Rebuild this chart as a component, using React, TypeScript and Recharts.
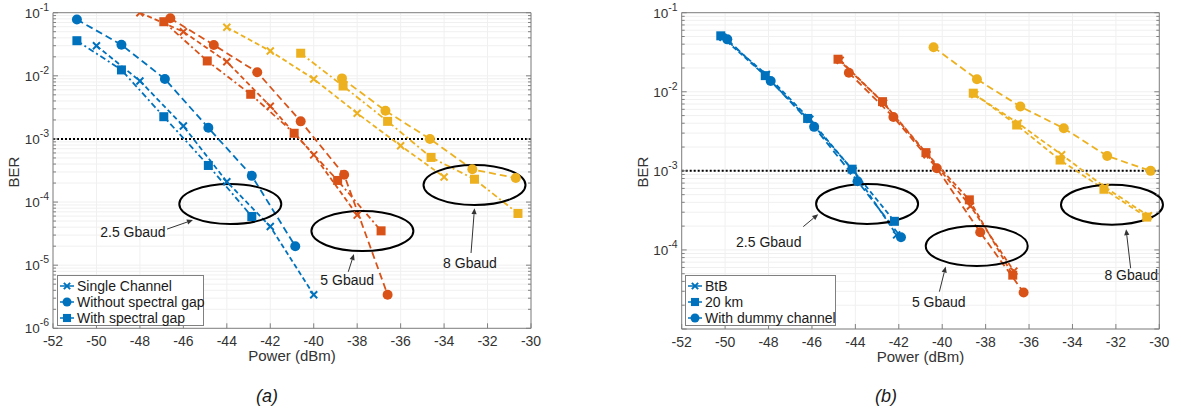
import React from "react";
import {
  CartesianGrid,
  Legend,
  Line,
  LineChart,
  ReferenceDot,
  ReferenceLine,
  XAxis,
  YAxis,
} from "recharts";

type Pt = { x: number; y: number };
type Kind = "x" | "o" | "s";

const BLUE = "#0072BD";
const RED = "#D95319";
const YELLOW = "#EDB120";
const AXIS = "#808080";
const GRID = "#f0f0f0";
const TEXT = "#333333";
const FONT = '"Liberation Sans", Arial, Helvetica, sans-serif';

const X_TICKS = [-52, -50, -48, -46, -44, -42, -40, -38, -36, -34, -32, -30];
const MANTISSAS = [1, 2, 3, 4, 5, 6, 7, 8, 9];
const A_Y_LABEL_EXPS = [-6, -5, -4, -3, -2, -1];
const B_Y_LABEL_EXPS = [-4, -3, -2, -1];

// (a) 2.5 Gbaud
const A_BLUE_SINGLE: Pt[] = [
  { x: -50, y: 0.03 }, { x: -48, y: 0.0083 }, { x: -46, y: 0.0016 },
  { x: -44, y: 2.1e-4 }, { x: -42, y: 4.1e-5 }, { x: -40, y: 3.4e-6 },
];
const A_BLUE_NOGAP: Pt[] = [
  { x: -50.9, y: 0.078 }, { x: -48.85, y: 0.031 }, { x: -46.85, y: 0.0089 },
  { x: -44.85, y: 0.0015 }, { x: -42.85, y: 2.6e-4 }, { x: -40.85, y: 2.0e-5 },
];
const A_BLUE_GAP: Pt[] = [
  { x: -50.9, y: 0.036 }, { x: -48.85, y: 0.0124 }, { x: -46.9, y: 0.00225 },
  { x: -44.85, y: 3.8e-4 }, { x: -42.85, y: 5.9e-5 },
];
// (a) 5 Gbaud
const A_RED_SINGLE: Pt[] = [
  { x: -48, y: 0.1 }, { x: -46, y: 0.05 }, { x: -44, y: 0.0167 },
  { x: -42, y: 0.0033 }, { x: -40, y: 5.6e-4 }, { x: -38, y: 6.2e-5 },
];
const A_RED_NOGAP: Pt[] = [
  { x: -46.6, y: 0.0815 }, { x: -44.6, y: 0.0308 }, { x: -42.6, y: 0.0114 },
  { x: -40.6, y: 0.0019 }, { x: -38.6, y: 2.7e-4 }, { x: -36.6, y: 3.4e-6 },
];
const A_RED_GAP: Pt[] = [
  { x: -46.9, y: 0.072 }, { x: -44.9, y: 0.0172 }, { x: -42.9, y: 0.0051 },
  { x: -40.9, y: 0.00123 }, { x: -38.9, y: 2.2e-4 }, { x: -36.9, y: 3.5e-5 },
];
// (a) 8 Gbaud
const A_YEL_SINGLE: Pt[] = [
  { x: -44, y: 0.0587 }, { x: -42, y: 0.0247 }, { x: -40, y: 0.0089 },
  { x: -38, y: 0.00255 }, { x: -36, y: 7.8e-4 }, { x: -34, y: 2.5e-4 },
];
const A_YEL_NOGAP: Pt[] = [
  { x: -38.7, y: 0.0091 }, { x: -36.7, y: 0.0028 }, { x: -34.65, y: 0.001 },
  { x: -32.7, y: 3.3e-4 }, { x: -30.7, y: 2.4e-4 },
];
const A_YEL_GAP: Pt[] = [
  { x: -40.6, y: 0.0228 }, { x: -38.65, y: 0.0069 }, { x: -36.6, y: 0.0019 },
  { x: -34.6, y: 5.1e-4 }, { x: -32.6, y: 2.3e-4 }, { x: -30.6, y: 6.6e-5 },
];

// (b) 2.5 Gbaud
const B_BLUE_BTB: Pt[] = [
  { x: -50.1, y: 0.049 }, { x: -48.1, y: 0.0165 }, { x: -46.1, y: 0.0045 },
  { x: -44.1, y: 0.001 }, { x: -42.1, y: 1.55e-4 },
];
const B_BLUE_20KM: Pt[] = [
  { x: -50.2, y: 0.051 }, { x: -48.15, y: 0.016 }, { x: -46.2, y: 0.0046 },
  { x: -44.15, y: 0.00105 }, { x: -42.2, y: 2.3e-4 },
];
const B_BLUE_DUMMY: Pt[] = [
  { x: -49.9, y: 0.046 }, { x: -47.9, y: 0.0137 }, { x: -45.9, y: 0.0036 },
  { x: -43.9, y: 7.4e-4 }, { x: -41.9, y: 1.45e-4 },
];
// (b) 5 Gbaud
const B_RED_BTB: Pt[] = [
  { x: -44.7, y: 0.025 }, { x: -42.7, y: 0.0072 }, { x: -40.7, y: 0.0016 },
  { x: -38.7, y: 3.6e-4 }, { x: -36.7, y: 5.4e-5 },
];
const B_RED_20KM: Pt[] = [
  { x: -44.8, y: 0.0258 }, { x: -42.75, y: 0.0075 }, { x: -40.75, y: 0.0017 },
  { x: -38.75, y: 4.3e-4 }, { x: -36.75, y: 4.8e-5 },
];
const B_RED_DUMMY: Pt[] = [
  { x: -44.3, y: 0.0174 }, { x: -42.25, y: 0.0048 }, { x: -40.25, y: 0.00108 },
  { x: -38.25, y: 1.67e-4 }, { x: -36.25, y: 2.9e-5 },
];
// (b) 8 Gbaud
const B_YEL_BTB: Pt[] = [
  { x: -38.5, y: 0.0092 }, { x: -36.5, y: 0.004 }, { x: -34.5, y: 0.0016 },
  { x: -32.5, y: 6.2e-4 }, { x: -30.5, y: 2.7e-4 },
];
const B_YEL_20KM: Pt[] = [
  { x: -38.57, y: 0.0096 }, { x: -36.57, y: 0.0038 }, { x: -34.57, y: 0.00137 },
  { x: -32.55, y: 5.85e-4 }, { x: -30.58, y: 2.6e-4 },
];
const B_YEL_DUMMY: Pt[] = [
  { x: -40.4, y: 0.0366 }, { x: -38.4, y: 0.0144 }, { x: -36.4, y: 0.0065 },
  { x: -34.4, y: 0.00345 }, { x: -32.4, y: 0.00154 }, { x: -30.4, y: 0.001 },
];

// annotation anchors in data units
const A_ELLIPSES: Pt[] = [
  { x: -43.84, y: 9.3e-5 }, { x: -37.76, y: 3.47e-5 }, { x: -32.6, y: 1.86e-4 },
];
const A_NOTES = [
  { x: -48.32, y: 3.4e-5, text: "2.5 Gbaud" },
  { x: -38.46, y: 5.8e-6, text: "5 Gbaud" },
  { x: -32.81, y: 1.07e-5, text: "8 Gbaud" },
];
const A_ARROWS: Pt[][] = [
  [{ x: -46.75, y: 3.73e-5 }, { x: -45.56, y: 5.19e-5 }],
  [{ x: -38.41, y: 7.86e-6 }, { x: -38.15, y: 1.5e-5 }],
  [{ x: -32.76, y: 1.56e-5 }, { x: -32.6, y: 8.0e-5 }],
];
const B_ELLIPSES: Pt[] = [
  { x: -43.46, y: 3.82e-4 }, { x: -38.41, y: 1.12e-4 }, { x: -32.18, y: 3.74e-4 },
];
const B_NOTES = [
  { x: -47.99, y: 1.25e-4, text: "2.5 Gbaud" },
  { x: -40.16, y: 2.18e-5, text: "5 Gbaud" },
  { x: -31.29, y: 4.83e-5, text: "8 Gbaud" },
];
const B_ARROWS: Pt[][] = [
  [{ x: -46.4, y: 1.97e-4 }, { x: -45.71, y: 2.83e-4 }],
  [{ x: -40.13, y: 2.97e-5 }, { x: -39.84, y: 6.15e-5 }],
  [{ x: -31.32, y: 5.87e-5 }, { x: -31.53, y: 1.83e-4 }],
];

const A_LEGEND = [
  { label: "Single Channel", kind: "x" as Kind },
  { label: "Without spectral gap", kind: "o" as Kind },
  { label: "With spectral gap", kind: "s" as Kind },
];
const B_LEGEND = [
  { label: "BtB", kind: "x" as Kind },
  { label: "20 km", kind: "s" as Kind },
  { label: "With dummy channel", kind: "o" as Kind },
];

type Series = { name: string; data: Pt[]; color: string; kind: Kind; dash: string };

const DASH_X = "5 3";
const DASH_O = "7 4";
const DASH_S = "6 3 2 3";

const A_SERIES: Series[] = [
  { name: "a-b-x", data: A_BLUE_SINGLE, color: BLUE, kind: "x", dash: DASH_X },
  { name: "a-b-o", data: A_BLUE_NOGAP, color: BLUE, kind: "o", dash: DASH_O },
  { name: "a-b-s", data: A_BLUE_GAP, color: BLUE, kind: "s", dash: DASH_S },
  { name: "a-r-x", data: A_RED_SINGLE, color: RED, kind: "x", dash: DASH_X },
  { name: "a-r-o", data: A_RED_NOGAP, color: RED, kind: "o", dash: DASH_O },
  { name: "a-r-s", data: A_RED_GAP, color: RED, kind: "s", dash: DASH_S },
  { name: "a-y-x", data: A_YEL_SINGLE, color: YELLOW, kind: "x", dash: DASH_X },
  { name: "a-y-o", data: A_YEL_NOGAP, color: YELLOW, kind: "o", dash: DASH_O },
  { name: "a-y-s", data: A_YEL_GAP, color: YELLOW, kind: "s", dash: DASH_S },
];
const B_SERIES: Series[] = [
  { name: "b-b-x", data: B_BLUE_BTB, color: BLUE, kind: "x", dash: DASH_X },
  { name: "b-b-s", data: B_BLUE_20KM, color: BLUE, kind: "s", dash: DASH_X },
  { name: "b-b-o", data: B_BLUE_DUMMY, color: BLUE, kind: "o", dash: DASH_O },
  { name: "b-r-x", data: B_RED_BTB, color: RED, kind: "x", dash: DASH_X },
  { name: "b-r-s", data: B_RED_20KM, color: RED, kind: "s", dash: DASH_X },
  { name: "b-r-o", data: B_RED_DUMMY, color: RED, kind: "o", dash: DASH_O },
  { name: "b-y-x", data: B_YEL_BTB, color: YELLOW, kind: "x", dash: DASH_X },
  { name: "b-y-s", data: B_YEL_20KM, color: YELLOW, kind: "s", dash: DASH_X },
  { name: "b-y-o", data: B_YEL_DUMMY, color: YELLOW, kind: "o", dash: DASH_O },
];

function logTicks(lo: number, hi: number) {
  const out: number[] = [];
  for (let e = lo; e < hi; e++) for (const m of MANTISSAS) out.push(m * Math.pow(10, e));
  out.push(Math.pow(10, hi));
  return out;
}

function decadeOf(v: number) {
  const l = Math.log10(v);
  const r = Math.round(l);
  return Math.abs(l - r) < 1e-6 ? r : null;
}

function Marker({ cx, cy, kind, color, size = 1 }: { cx: number; cy: number; kind: Kind; color: string; size?: number }) {
  if (cx == null || cy == null) return null;
  if (kind === "x") {
    const d = 3.5 * size;
    return (
      <path
        d={`M${cx - d},${cy - d}L${cx + d},${cy + d}M${cx - d},${cy + d}L${cx + d},${cy - d}`}
        stroke={color}
        strokeWidth={2}
        fill="none"
      />
    );
  }
  if (kind === "o") return <circle cx={cx} cy={cy} r={5 * size} fill={color} />;
  const h = 4.5 * size;
  return <rect x={cx - h} y={cy - h} width={2 * h} height={2 * h} fill={color} />;
}

function LeftTick(props: any) {
  const { x, y, payload, labelExps } = props;
  const exp = decadeOf(payload.value);
  const major = exp !== null;
  return (
    <g>
      <line x1={x + 4} x2={x + 4 + (major ? 5 : 3)} y1={y} y2={y} stroke={AXIS} />
      {major && labelExps.includes(exp) && (
        <text x={x} y={y} dy={5} textAnchor="end" fontSize={13.5} fill={TEXT} fontFamily={FONT}>
          10
          <tspan dy={-7} fontSize={10.5}>{exp}</tspan>
        </text>
      )}
    </g>
  );
}

function RightTick(props: any) {
  const { x, y, payload } = props;
  const major = decadeOf(payload.value) !== null;
  return <line x1={x} x2={x - (major ? 5 : 3)} y1={y} y2={y} stroke={AXIS} />;
}

function BottomTick(props: any) {
  const { x, y, payload } = props;
  return (
    <g>
      <line x1={x} x2={x} y1={y - 8} y2={y - 13} stroke={AXIS} />
      <text x={x} y={y} dy={10} textAnchor="middle" fontSize={14} fill={TEXT} fontFamily={FONT}>
        {payload.value}
      </text>
    </g>
  );
}

function TopTick(props: any) {
  const { x, y } = props;
  return <line x1={x} x2={x} y1={y} y2={y + 5} stroke={AXIS} />;
}

function ArrowShape(props: any) {
  const { x1, y1, x2, y2 } = props;
  if ([x1, y1, x2, y2].some((v) => v == null || Number.isNaN(v))) return null;
  const a = Math.atan2(y2 - y1, x2 - x1);
  const L = 6;
  const W = 2.6;
  const bx = x2 - L * Math.cos(a);
  const by = y2 - L * Math.sin(a);
  const pts = `${x2},${y2} ${bx + W * Math.sin(a)},${by - W * Math.cos(a)} ${bx - W * Math.sin(a)},${by + W * Math.cos(a)}`;
  return (
    <g>
      <line x1={x1} y1={y1} x2={bx} y2={by} stroke="#333" strokeWidth={1} />
      <polygon points={pts} fill="#333" />
    </g>
  );
}

function LegendBox({ items, width }: { items: { label: string; kind: Kind }[]; width: number }) {
  return (
    <div
      style={{
        width,
        height: 51,
        boxSizing: "border-box",
        border: `1px solid ${AXIS}`,
        background: "#fff",
        padding: "2px 0 0 1px",
        fontFamily: FONT,
        fontSize: 14,
        color: "#1a1a1a",
      }}
    >
      {items.map((it) => (
        <div key={it.label} style={{ display: "flex", alignItems: "center", height: 16, lineHeight: "16px" }}>
          <svg width={16} height={14} style={{ flex: "none" }}>
            <line x1={1} x2={15} y1={7} y2={7} stroke={BLUE} strokeWidth={1.5} />
            <Marker cx={8} cy={7} kind={it.kind} color={BLUE} size={0.9} />
          </svg>
          <span style={{ marginLeft: 2, whiteSpace: "nowrap" }}>{it.label}</span>
        </div>
      ))}
    </div>
  );
}

type PanelProps = {
  series: Series[];
  yLow: number;
  labelExps: number[];
  ellipses: Pt[];
  notes: { x: number; y: number; text: string }[];
  arrows: Pt[][];
  legend: { label: string; kind: Kind }[];
  legendPos: { left: number; top: number; width: number };
  margin: { top: number; right: number; bottom: number; left: number };
  berX: number;
};

function Panel(p: PanelProps) {
  const yTicks = logTicks(p.yLow, -1);
  const domain: [number, number] = [Math.pow(10, p.yLow), 0.1];
  return (
    <LineChart width={560} height={412} margin={p.margin}>
      <CartesianGrid stroke={GRID} />
      <XAxis
        dataKey="x"
        type="number"
        domain={[-52, -30]}
        ticks={X_TICKS}
        interval={0}
        tickSize={0}
        tickMargin={8}
        tick={BottomTick}
        tickLine={false}
        axisLine={{ stroke: AXIS }}
        allowDataOverflow
        height={30}
        label={{ value: "Power (dBm)", position: "insideBottom", offset: -3, fontSize: 15, fill: TEXT, fontFamily: FONT }}
      />
      <XAxis
        xAxisId="top"
        orientation="top"
        type="number"
        domain={[-52, -30]}
        ticks={X_TICKS}
        interval={0}
        tickSize={0}
        tickMargin={0}
        tick={TopTick}
        tickLine={false}
        axisLine={{ stroke: AXIS }}
        allowDataOverflow
        height={1}
      />
      <YAxis
        type="number"
        scale="log"
        domain={domain}
        ticks={yTicks}
        interval={0}
        tickSize={0}
        tickMargin={4}
        tick={(tp: any) => <LeftTick {...tp} labelExps={p.labelExps} />}
        tickLine={false}
        axisLine={{ stroke: AXIS }}
        allowDataOverflow
        width={45}
        label={{
          content: (lp: any) => {
            const vb = lp.viewBox || {};
            const x = vb.x + vb.width + p.berX;
            const y = 172;
            return (
              <text x={x} y={y} transform={`rotate(-90, ${x}, ${y})`} textAnchor="middle" fontSize={15} fill={TEXT} fontFamily={FONT}>
                BER
              </text>
            );
          },
        }}
      />
      <YAxis
        yAxisId="right"
        orientation="right"
        type="number"
        scale="log"
        domain={domain}
        ticks={yTicks}
        interval={0}
        tickSize={0}
        tickMargin={0}
        tick={RightTick}
        tickLine={false}
        axisLine={{ stroke: AXIS }}
        allowDataOverflow
        width={1}
      />
      <ReferenceLine y={1e-3} stroke="#000" strokeWidth={2} strokeDasharray="2 2" />
      {p.series.map((s) => (
        <Line
          key={s.name}
          data={s.data}
          dataKey="y"
          type="linear"
          stroke={s.color}
          strokeWidth={1.8}
          strokeDasharray={s.dash}
          dot={(dp: any) => <Marker key={`${s.name}-${dp.index}`} cx={dp.cx} cy={dp.cy} kind={s.kind} color={s.color} />}
          activeDot={false}
          isAnimationActive={false}
        />
      ))}
      {p.ellipses.map((e, i) => (
        <ReferenceDot
          key={`e${i}`}
          x={e.x}
          y={e.y}
          r={3}
          shape={(sp: any) => <ellipse cx={sp.cx} cy={sp.cy} rx={51} ry={20} fill="none" stroke="#000" strokeWidth={2} />}
        />
      ))}
      {p.arrows.map((a, i) => (
        <ReferenceLine key={`a${i}`} segment={[a[0], a[1]]} shape={ArrowShape} />
      ))}
      {p.notes.map((n, i) => (
        <ReferenceDot
          key={`n${i}`}
          x={n.x}
          y={n.y}
          r={3}
          shape={(sp: any) => (
            <text x={sp.cx} y={sp.cy} dy={5} textAnchor="middle" fontSize={14} fill="#1a1a1a" fontFamily={FONT}>
              {n.text}
            </text>
          )}
        />
      ))}
      <Legend
        layout="horizontal"
        verticalAlign="middle"
        align="center"
        wrapperStyle={{ left: p.legendPos.left, top: p.legendPos.top, width: p.legendPos.width }}
        content={() => <LegendBox items={p.legend} width={p.legendPos.width} />}
      />
    </LineChart>
  );
}

export default function App() {
  return (
    <div style={{ position: "absolute", left: 0, top: 0, width: 1181, height: 412, background: "#fff", fontFamily: FONT }}>
      <div style={{ position: "absolute", left: 0, top: 0 }}>
        <Panel
          series={A_SERIES}
          yLow={-6}
          labelExps={A_Y_LABEL_EXPS}
          ellipses={A_ELLIPSES}
          notes={A_NOTES}
          arrows={A_ARROWS}
          legend={A_LEGEND}
          legendPos={{ left: 57, top: 275, width: 147 }}
          margin={{ top: 11.7, right: 28, bottom: 53.7, left: 8 }}
          berX={-34.5}
        />
      </div>
      <div style={{ position: "absolute", left: 620, top: 0 }}>
        <Panel
          series={B_SERIES}
          yLow={-5}
          labelExps={B_Y_LABEL_EXPS}
          ellipses={B_ELLIPSES}
          notes={B_NOTES}
          arrows={B_ARROWS}
          legend={B_LEGEND}
          legendPos={{ left: 65, top: 275, width: 151 }}
          margin={{ top: 11.7, right: 19.7, bottom: 53, left: 16.7 }}
          berX={-34}
        />
      </div>
      <div style={{ position: "absolute", left: 237, top: 384, width: 60, textAlign: "center", fontStyle: "italic", fontSize: 18, lineHeight: "24px", color: "#1a1a1a" }}>
        (a)
      </div>
      <div style={{ position: "absolute", left: 856, top: 384, width: 60, textAlign: "center", fontStyle: "italic", fontSize: 18, lineHeight: "24px", color: "#1a1a1a" }}>
        (b)
      </div>
    </div>
  );
}
